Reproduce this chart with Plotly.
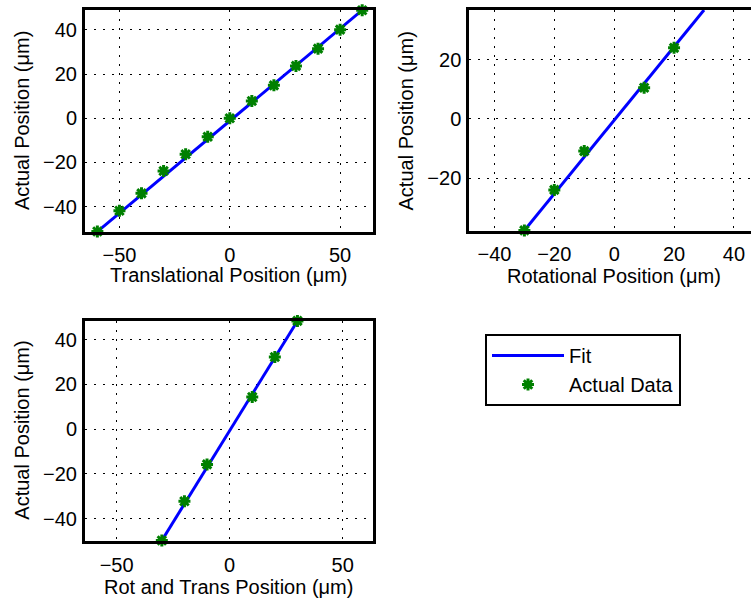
import plotly.graph_objects as go

# ---- data ----
trans_x = [-60, -50, -40, -30, -20, -10, 0, 10, 20, 30, 40, 50, 60]
trans_y = [-51.3, -41.9, -34.0, -23.9, -16.3, -8.4, 0.0, 7.8, 14.9, 23.7, 31.5, 40.1, 48.9]
trans_fit_x = [-60, 60]
trans_fit_y = [-51.3, 48.9]

rot_x = [-30, -20, -10, 10, 20]
rot_y = [-37.7, -24.0, -10.9, 10.5, 24.0]
rot_fit_x = [-30, 30]
rot_fit_y = [-37.7, 36.8]

both_x = [-30, -20, -10, 10, 20, 30]
both_y = [-49.8, -32.3, -15.8, 14.3, 32.2, 48.3]
both_fit_x = [-30, 30]
both_fit_y = [-49.8, 48.3]

x_titles = ["Translational Position (\u03bcm)", "Rotational Position (\u03bcm)",
            "Rot and Trans Position (\u03bcm)"]
y_title = "Actual Position (\u03bcm)"

W, H = 751, 598
FONT = "Liberation Sans, Arial, Helvetica, sans-serif"
BLUE = "rgb(0,0,255)"
GREEN = "rgb(0,128,0)"

fig = go.Figure()

panels = [
    (trans_fit_x, trans_fit_y, trans_x, trans_y, "x", "y"),
    (rot_fit_x, rot_fit_y, rot_x, rot_y, "x2", "y2"),
    (both_fit_x, both_fit_y, both_x, both_y, "x3", "y3"),
]
for i, (fx, fy, dx, dy, xa, ya) in enumerate(panels):
    fig.add_trace(go.Scatter(
        x=fx, y=fy, mode="lines", name="Fit",
        line=dict(color=BLUE, width=3),
        xaxis=xa, yaxis=ya, showlegend=(i == 0), cliponaxis=False))
    fig.add_trace(go.Scatter(
        x=dx, y=dy, mode="markers", name="Actual Data",
        marker=dict(symbol="asterisk-open", size=10, color=GREEN,
                    line=dict(color=GREEN, width=3)),
        xaxis=xa, yaxis=ya, showlegend=(i == 0), cliponaxis=False))

def px_x(a, b):
    return [a / W, min(b / W, 1.0)]

def px_y(top, bottom):
    return [1 - bottom / H, 1 - top / H]

common = dict(
    showline=True, linecolor="black", linewidth=3,
    showgrid=True, gridcolor="black", gridwidth=1, griddash="2px,7px",
    zeroline=False, ticks="", tickfont=dict(size=20, color="black", family=FONT),
)

fig.update_layout(
    width=W, height=H,
    margin=dict(l=0, r=0, t=0, b=0),
    paper_bgcolor="white", plot_bgcolor="white",
    font=dict(family=FONT, size=20, color="black"),
    xaxis=dict(domain=px_x(85, 373), range=[-65.6, 64.9], dtick=50, anchor="y",
               mirror=True, ticklabelstandoff=3, **common),
    yaxis=dict(domain=px_y(10, 232), range=[-51.5, 49.0], dtick=20, anchor="x",
               mirror=True, ticklabelstandoff=1, **common),
    xaxis2=dict(domain=px_x(469.3, 751), range=[-48.4, 45.7], dtick=20, anchor="y2",
                mirror=True, ticklabelstandoff=3, **common),
    yaxis2=dict(domain=px_y(10, 231), range=[-37.9, 36.8], dtick=20, anchor="x2",
                mirror=False, ticklabelstandoff=1, **common),
    xaxis3=dict(domain=px_x(85, 372.7), range=[-64.0, 63.3], dtick=50, anchor="y3",
                mirror=True, ticklabelstandoff=4, **common),
    yaxis3=dict(domain=px_y(320.7, 540.7), range=[-49.9, 48.4], dtick=20, anchor="x3",
                mirror=True, ticklabelstandoff=1, **common),
    legend=dict(x=485 / W, y=1 - 334 / H, xanchor="left", yanchor="top",
                bordercolor="black", borderwidth=2, bgcolor="white",
                font=dict(size=20, family=FONT, color="black"),
                itemwidth=72),
)

# axis titles as paper-positioned annotations
title_font = dict(size=20, family=FONT, color="black")
x_title_pos = [(229, 275), (614, 276), (229, 587)]
for text, (cx, cy) in zip(x_titles, x_title_pos):
    fig.add_annotation(text=text, xref="paper", yref="paper",
                       x=cx / W, y=1 - cy / H, xanchor="center", yanchor="middle",
                       showarrow=False, font=title_font)
y_title_pos = [(22, 121), (405, 120.5), (22, 430.7)]
for cx, cy in y_title_pos:
    fig.add_annotation(text=y_title, xref="paper", yref="paper",
                       x=cx / W, y=1 - cy / H, xanchor="center", yanchor="middle",
                       textangle=-90, showarrow=False, font=title_font)

fig.write_html("out.html")
